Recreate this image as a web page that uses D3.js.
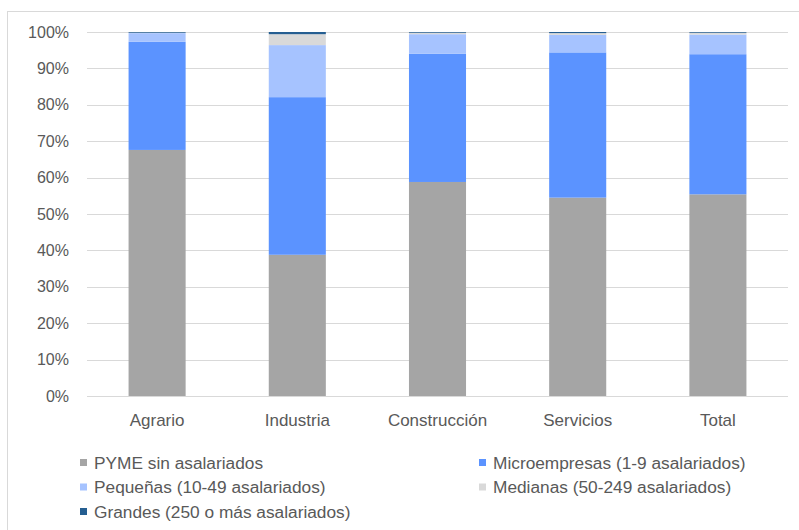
<!DOCTYPE html>
<html>
<head>
<meta charset="utf-8">
<script src="https://cdn.jsdelivr.net/npm/d3@7"></script>
<style>
  body { margin: 0; background: #fff; }
  svg { display: block; font-family: "Liberation Sans", Arial, sans-serif; }
  text { fill: #595959; }
</style>
</head>
<body>
<div id="chart"></div>
<script>
// categories and series (share of firms, %)
const categories = ['Agrario', 'Industria', 'Construcción', 'Servicios', 'Total'];
const seriesNames = [
  'PYME sin asalariados',
  'Microempresas (1-9 asalariados)',
  'Pequeñas (10-49 asalariados)',
  'Medianas (50-249 asalariados)',
  'Grandes (250 o más asalariados)'
];
const sinAsalariados = [67.6, 38.8, 58.8, 54.5, 55.4];
const micro          = [29.7, 43.3, 35.2, 39.9, 38.5];
const pequenas       = [2.4, 14.3, 5.4, 4.8, 5.4];
const medianas       = [0.1, 3.0, 0.4, 0.5, 0.5];
const grandes        = [0.2, 0.6, 0.2, 0.3, 0.2];
const yTicks = [0, 0.1, 0.2, 0.3, 0.4, 0.5, 0.6, 0.7, 0.8, 0.9, 1];

const colors = ['#a5a5a5', '#5b93ff', '#a6c3ff', '#d9d9d9', '#255e91'];

const W = 799, H = 530;
const plot = { left: 87, right: 788, top: 32, bottom: 396 };

const seriesValues = [sinAsalariados, micro, pequenas, medianas, grandes];
const rows = categories.map((c, i) => {
  const r = { cat: c };
  seriesNames.forEach((s, j) => { r[s] = seriesValues[j][i]; });
  return r;
});

const stacked = d3.stack()
  .keys(seriesNames)
  .offset(d3.stackOffsetExpand)(rows);

const x = d3.scaleBand()
  .domain(categories)
  .range([plot.left, plot.right])
  .paddingInner(0.593)
  .paddingOuter(0.2965);

const y = d3.scaleLinear()
  .domain([0, 1])
  .range([plot.bottom, plot.top]);

const svg = d3.select('#chart').append('svg')
  .attr('width', W)
  .attr('height', H);

// chart border (cropped at right / bottom)
svg.append('rect')
  .attr('x', 7.5).attr('y', 11.5)
  .attr('width', W + 10).attr('height', H + 10)
  .attr('fill', 'none')
  .attr('stroke', '#d9d9d9');

// gridlines
svg.append('g')
  .selectAll('line')
  .data(yTicks)
  .join('line')
  .attr('x1', plot.left).attr('x2', plot.right)
  .attr('y1', d => Math.round(y(d)) + 0.5)
  .attr('y2', d => Math.round(y(d)) + 0.5)
  .attr('stroke', '#d9d9d9')
  .attr('stroke-width', 1);

// y axis labels
const yAxis = d3.axisLeft(y)
  .tickValues(yTicks)
  .tickFormat(d3.format('.0%'))
  .tickSize(0)
  .tickPadding(18);
const gy = svg.append('g')
  .attr('transform', `translate(${plot.left},0)`)
  .call(yAxis);
gy.select('.domain').remove();
gy.selectAll('text')
  .attr('font-size', 16)
  .attr('font-family', null)
  .attr('fill', '#595959');

// bars
svg.append('g')
  .selectAll('g')
  .data(stacked)
  .join('g')
  .attr('fill', (d, i) => colors[i])
  .selectAll('rect')
  .data(d => d)
  .join('rect')
  .attr('x', d => x(d.data.cat))
  .attr('width', x.bandwidth())
  .attr('y', d => y(d[1]))
  .attr('height', d => y(d[0]) - y(d[1]));

// x axis labels
const xAxis = d3.axisBottom(x).tickSize(0).tickPadding(18);
const gx = svg.append('g')
  .attr('transform', `translate(0,${plot.bottom})`)
  .call(xAxis);
gx.select('.domain').remove();
gx.selectAll('text')
  .attr('font-size', 17)
  .attr('font-family', null)
  .attr('fill', '#595959');

// legend
const legendPos = [
  [80, 462.5], [479, 462.5],
  [80, 487], [479, 487],
  [80, 511.5]
];
const legend = svg.append('g')
  .selectAll('g')
  .data(seriesNames)
  .join('g')
  .attr('transform', (d, i) => `translate(${legendPos[i][0]},${legendPos[i][1]})`);
legend.append('rect')
  .attr('x', 0).attr('y', -3.5)
  .attr('width', 7).attr('height', 7)
  .attr('fill', (d, i) => colors[i]);
legend.append('text')
  .attr('x', 14)
  .attr('dy', '0.35em')
  .attr('font-size', 17.3)
  .text(d => d);
</script>
</body>
</html>
